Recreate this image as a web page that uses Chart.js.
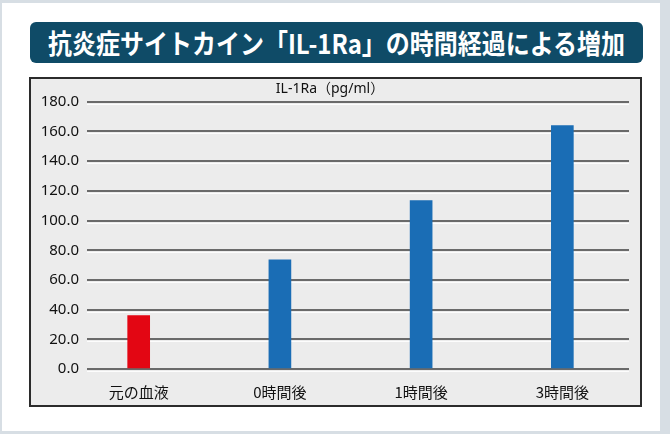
<!DOCTYPE html>
<html lang="ja">
<head>
<meta charset="utf-8">
<script src="https://cdn.jsdelivr.net/npm/chart.js@4.4.0/dist/chart.umd.min.js"></script>
<style>
  html, body { margin: 0; padding: 0; }
  body { width: 670px; height: 434px; background: #d7dee4; position: relative; overflow: hidden;
         font-family: "Noto Sans CJK JP", "Noto Sans", sans-serif; }
  #panel { position: absolute; left: 2px; top: 3px; width: 658px; height: 428px; background: #fff; }
  #banner { position: absolute; left: 30px; top: 22px; width: 613px; height: 41px; background: #0f4b67;
            border-radius: 6px; color: #fff; font-weight: bold; font-size: 24px; line-height: 41px;
            text-align: center; }
  #banner span { display: inline-block; transform: scaleY(1.12); }
  #box { position: absolute; left: 29px; top: 77px; width: 609px; height: 326px; background: #ececec;
         border: 2px solid #2b2b2b; }
  #wrap { position: absolute; left: 0; top: 0; width: 609px; height: 326px; }
</style>
</head>
<body>
<div id="panel"></div>
<div id="banner"><span>抗炎症サイトカイン「IL-1Ra」の時間経過による増加</span></div>
<div id="box"><div id="wrap"><canvas id="chart"></canvas></div></div>
<script>
var categories = ["元の血液", "0時間後", "1時間後", "3時間後"];
var values = [36.0, 73.5, 113.5, 164.0];
var barColors = ["#e30613", "#1a6db5", "#1a6db5", "#1a6db5"];
var yTicks = [0, 20, 40, 60, 80, 100, 120, 140, 160, 180];
var unitTitle = "IL-1Ra（pg/ml）";

// thin white line under each grid line, like the embossed look of the original
var gridShine = {
  id: 'gridShine',
  beforeDatasetsDraw: function(chart) {
    var ctx = chart.ctx, y = chart.scales.y, area = chart.chartArea;
    ctx.save();
    ctx.strokeStyle = "rgba(255,255,255,0.9)";
    ctx.lineWidth = 1;
    yTicks.forEach(function(t) {
      var py = Math.round(y.getPixelForValue(t)) + 2.5;
      ctx.beginPath();
      ctx.moveTo(area.left, py);
      ctx.lineTo(area.right, py);
      ctx.stroke();
    });
    ctx.restore();
  }
};

new Chart(document.getElementById('chart'), {
  type: 'bar',
  data: {
    datasets: [{
      data: values.map(function(v, i) { return { x: i, y: v }; }),
      backgroundColor: barColors,
      barThickness: 22
    }]
  },
  options: {
    responsive: true,
    maintainAspectRatio: false,
    animation: false,
    layout: { padding: { left: 0, right: 11, top: 0, bottom: 0 } },
    plugins: {
      legend: { display: false },
      tooltip: { enabled: false },
      title: {
        display: true,
        text: unitTitle,
        color: "#111",
        font: { family: "'Noto Sans', 'Noto Sans CJK JP', sans-serif", size: 14, weight: 'normal' },
        padding: { top: 2, bottom: 4 }
      }
    },
    scales: {
      x: {
        type: 'linear',
        offset: false,
        min: -0.366,
        max: 3.472,
        grid: { display: false },
        border: { display: false },
        afterBuildTicks: function(scale) {
          scale.ticks = categories.map(function(c, i) { return { value: i }; });
        },
        afterFit: function(scale) { scale.height = 36; },
        ticks: {
          color: "#111",
          font: { family: "'Noto Sans CJK JP', sans-serif", size: 15 },
          padding: 6,
          maxRotation: 0,
          autoSkip: false,
          callback: function(v) { return categories[v]; }
        }
      },
      y: {
        min: 0,
        max: 180,
        afterBuildTicks: function(scale) {
          scale.ticks = yTicks.map(function(t) { return { value: t }; });
        },
        afterFit: function(scale) { scale.width = 56; },
        grid: { color: "#6a6a6a", lineWidth: 2, drawTicks: false },
        border: { display: false },
        ticks: {
          color: "#111",
          font: { family: "'Noto Sans', sans-serif", size: 15 },
          padding: 8,
          callback: function(v) { return v.toFixed(1); }
        }
      }
    }
  },
  plugins: [gridShine]
});
</script>
</body>
</html>
